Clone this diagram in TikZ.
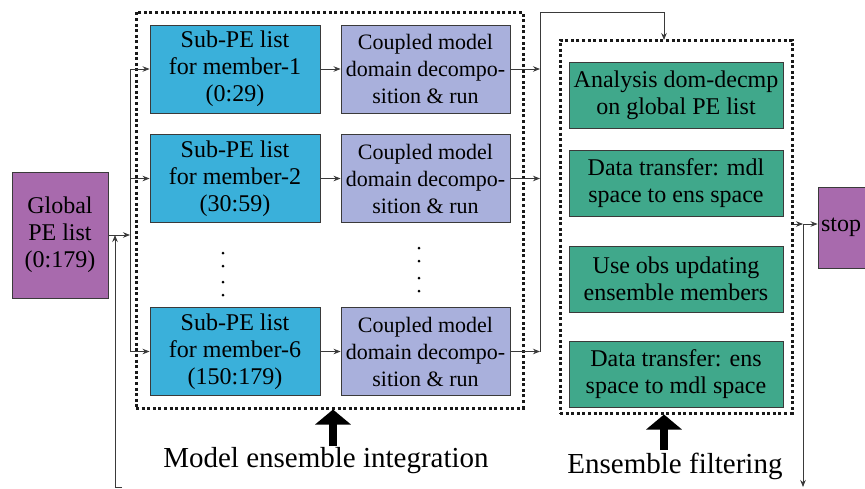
\documentclass[tikz,border=0pt]{standalone}
\usepackage{fontspec}
\setmainfont{Liberation Serif}
\usetikzlibrary{arrows.meta,calc}
\definecolor{subpe}{HTML}{3AB0DA}
\definecolor{coup}{HTML}{A9B0DC}
\definecolor{grn}{HTML}{40A88B}
\definecolor{purp}{HTML}{A86AAD}
\definecolor{lineclr}{HTML}{3A3A3A}
\tikzset{
  pebox/.style={draw=lineclr, line width=0.9pt, align=center, inner sep=0pt,
    font=\fontsize{24}{27}\selectfont},
  subbox/.style={pebox, fill=subpe, minimum width=170pt, minimum height=88pt},
  coupbox/.style={pebox, fill=coup, minimum width=169pt, minimum height=88pt,
    font=\fontsize{22}{27}\selectfont},
  grnbox/.style={pebox, fill=grn, minimum width=214pt, minimum height=66pt},
  dotbox/.style={draw=black!90, line width=3pt, dash pattern=on 3pt off 2.6pt, inner sep=0pt},
  arr/.style={-{Stealth[length=7pt,width=5.5pt]}, line width=0.8pt, draw=lineclr},
  plainline/.style={line width=0.8pt, draw=lineclr},
  bigarr/.style={-{Triangle[width=35pt,length=15pt]}, line width=8pt, draw=black},
  caption/.style={font=\fontsize{29}{32}\selectfont, inner sep=0pt},
  dotmark/.style={fill=black, circle, inner sep=0pt, minimum size=3pt}
}
\begin{document}
\begin{tikzpicture}[x=1pt,y=-1pt]
\clip (0,0) rectangle (865,488);
\fill[white] (0,0) rectangle (865,488);

% dotted frames
\node[dotbox, minimum width=387pt, minimum height=396pt] (mbox) at (329.5,210) {};
\node[dotbox, minimum width=232pt, minimum height=373pt] (ebox) at (676,226.5) {};

% global PE list
\node[pebox, fill=purp, minimum width=96pt, minimum height=126pt] (glob) at (60,235)
  {Global\\PE list\\(0:179)};

% sub-PE lists
\node[subbox] (s1) at (235,69) {Sub-PE list\\for member-1\\(0:29)};
\node[subbox] (s2) at (235,178.5) {Sub-PE list\\for member-2\\(30:59)};
\node[subbox] (s6) at (235,351.5) {Sub-PE list\\for member-6\\(150:179)};

% coupled model
\node[coupbox] (c1) at (425.5,69) {Coupled model\\domain decompo-\\sition \& run};
\node[coupbox] (c2) at (425.5,178.5) {Coupled model\\domain decompo-\\sition \& run};
\node[coupbox] (c6) at (425.5,351.5) {Coupled model\\domain decompo-\\sition \& run};

% vertical dots
\foreach \yy [count=\i] in {253,266,282,295} \node[dotmark] (dl\i) at (223,\yy) {};
\foreach \yy [count=\i] in {248,261,278,291} \node[dotmark] (dr\i) at (419,\yy) {};

% ensemble filter boxes
\node[grnbox] (e1) at (676,95) {Analysis dom-decmp\\on global PE list};
\node[grnbox] (e2) at (676,183) {Data transfer: mdl\\space to ens space};
\node[grnbox] (e3) at (676,279) {Use obs updating\\ensemble members};
\node[grnbox] (e4) at (676,374.5) {Data transfer: ens\\space to mdl space};

% stop
\node[pebox, fill=purp, minimum width=62pt, minimum height=81pt, text width=56pt,
  align=left, inner xsep=3pt] (stop) at (849,227.5) {stop};

% junction coordinates
\coordinate (tree) at (130,235);
\coordinate (t1) at (130,69);
\coordinate (t2) at (130,178.5);
\coordinate (t6) at (130,351.5);
\coordinate (j1) at (540,69);
\coordinate (j2) at (540,178.5);
\coordinate (j6) at (540,351.5);
\coordinate (jtop) at (540,12);
\coordinate (etop) at (664,40);
\coordinate (rj) at (803,224);
\coordinate (rbot) at (803,487);
\coordinate (lbot) at (115,487);
\coordinate (lbr) at (122,487);
\coordinate (lup) at (115,235);

% left tree
\draw[arr] (glob.east) -- (tree);
\draw[plainline] (t1) -- (t6);
\draw[arr] (t1) -- (s1.west);
\draw[arr] (t2) -- (s2.west);
\draw[arr] (t6) -- (s6.west);
\draw[arr] (lbr) -- (lbot) -- (lup);

% sub -> coupled
\draw[arr] (s1.east) -- (c1.west);
\draw[arr] (s2.east) -- (c2.west);
\draw[arr] (s6.east) -- (c6.west);

% coupled -> collector -> ensemble filtering
\draw[arr] (c1.east) -- (j1);
\draw[arr] (c2.east) -- (j2);
\draw[arr] (c6.east) -- (j6);
\draw[arr] (j6) -- (jtop) -| (etop);

% ensemble -> stop
\draw[arr] (ebox.east |- rj) -- (rj);
\draw[arr] (rj) -- (stop.west |- rj);
\draw[arr] (rj) -- (rbot);

% big arrows and captions
\coordinate (ma) at (333,446);
\coordinate (ea) at (664,450);
\draw[bigarr] (ma) -- (mbox.south -| ma);
\draw[bigarr] (ea) -- (ebox.south -| ea);
\node[caption] (mcap) at (326,461) {Model ensemble integration};
\node[caption] (ecap) at (675,466) {Ensemble filtering};
\end{tikzpicture}
\end{document}
